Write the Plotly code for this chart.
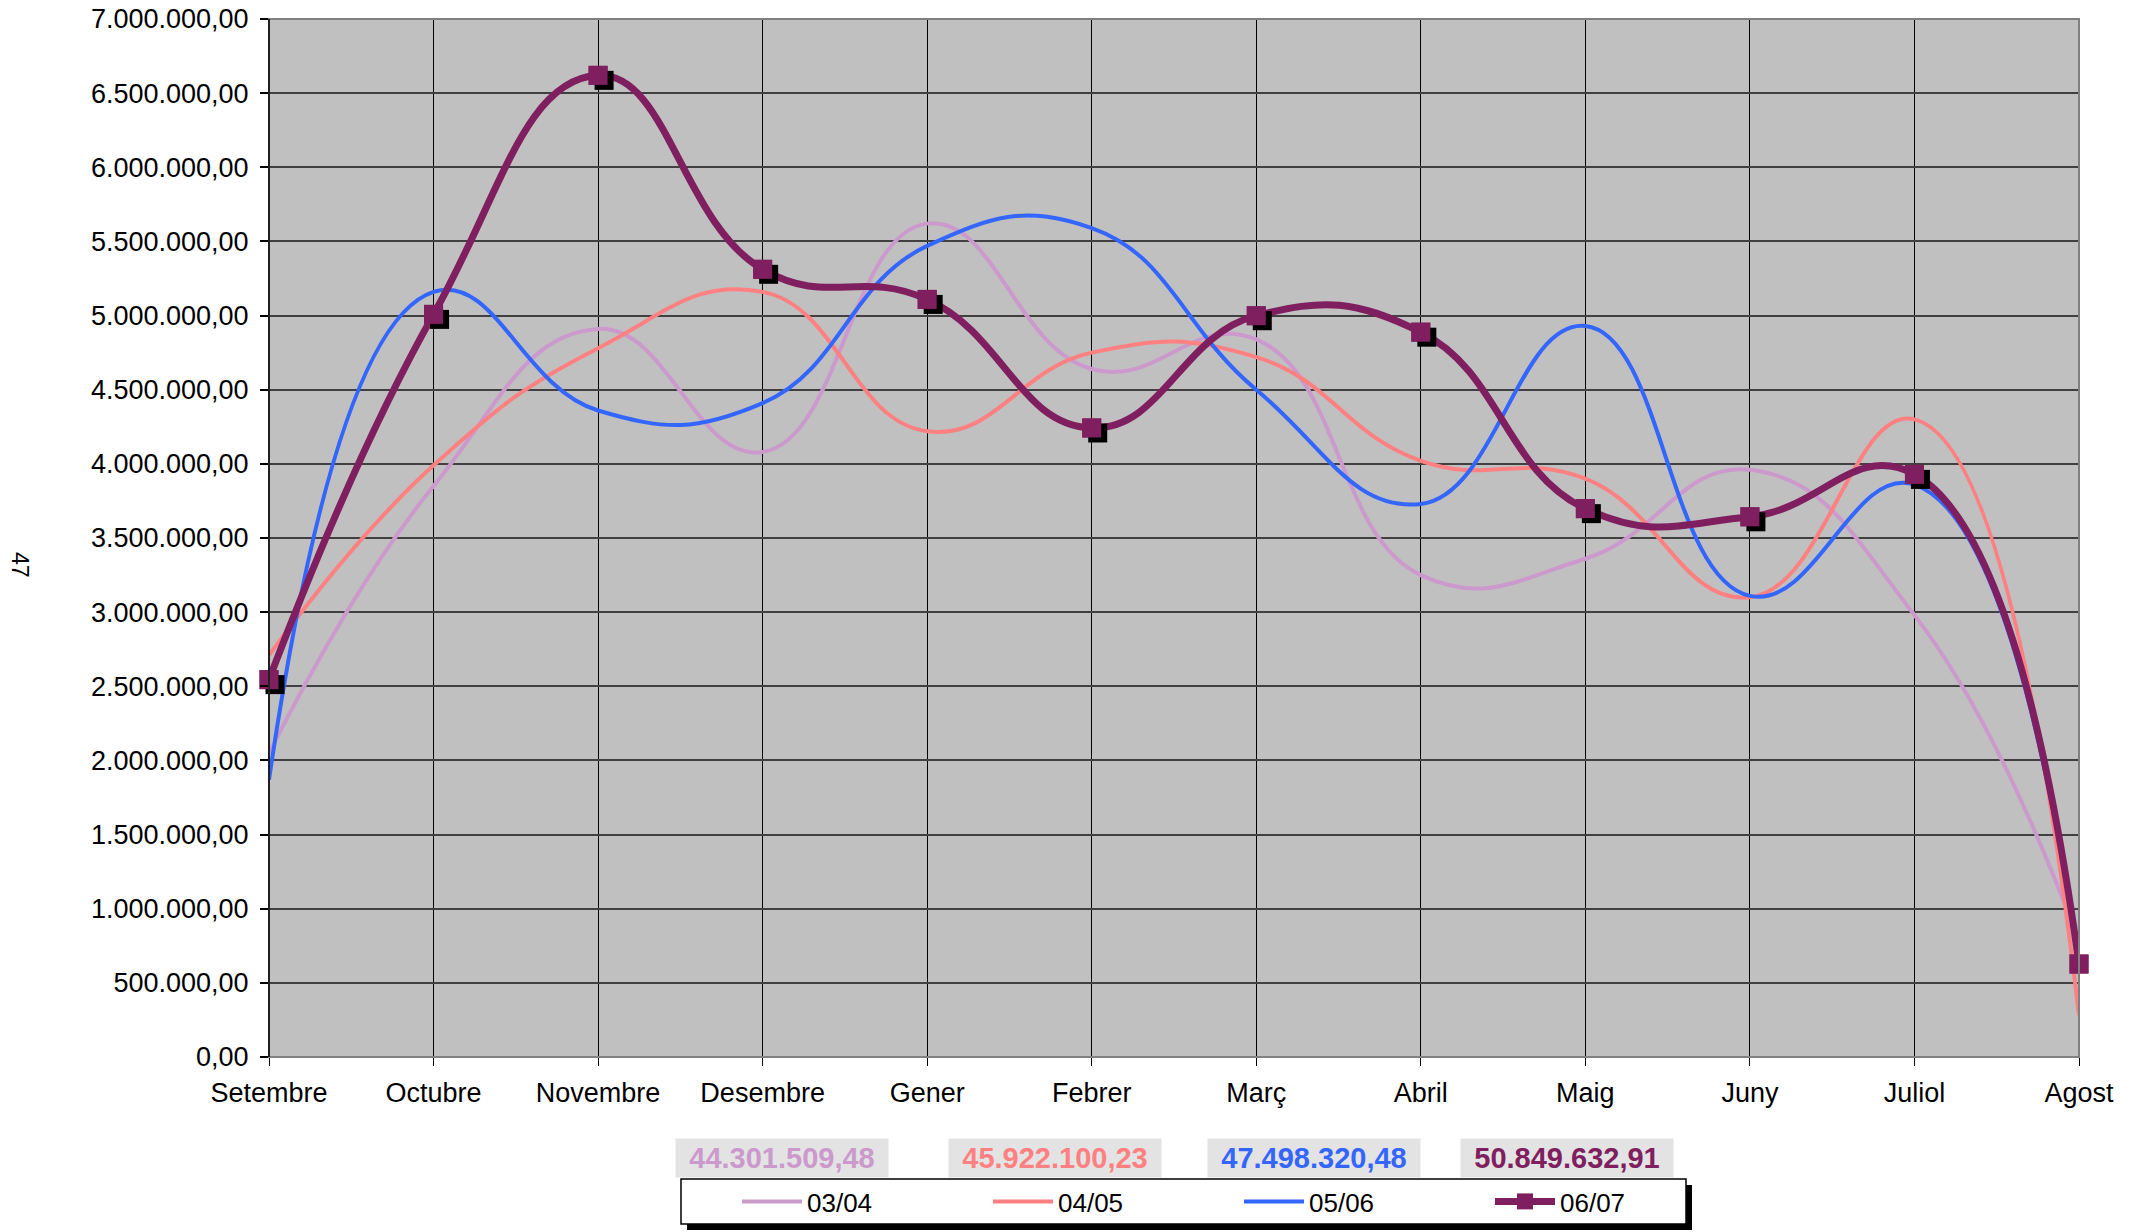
import plotly.graph_objects as go

months = ['Setembre', 'Octubre', 'Novembre', 'Desembre', 'Gener', 'Febrer',
          'Març', 'Abril', 'Maig', 'Juny', 'Juliol', 'Agost']

s0304 = [2050000, 3850000, 4910000, 4080000, 5620000, 4640000,
         4840000, 3250000, 3360000, 3960000, 2980000, 780000]
s0405 = [2710000, 3990000, 4780000, 5160000, 4220000, 4750000,
         4720000, 4020000, 3900000, 3100000, 4300000, 280000]
s0506 = [1870000, 5160000, 4360000, 4410000, 5470000, 5590000,
         4500000, 3730000, 4930000, 3110000, 3860000, 650000]
s0607 = [2545000, 5008000, 6620000, 5312000, 5109000, 4242000,
         4999000, 4888000, 3698000, 3643000, 3929000, 627000]

series_names = ['03/04', '04/05', '05/06', '06/07']
series_totals = ['44.301.509,48', '45.922.100,23', '47.498.320,48', '50.849.632,91']
series_colors = ['#CC99CC', '#FF8080', '#3366FF', '#7F1F5F']

y_tickvals = [0, 500000, 1000000, 1500000, 2000000, 2500000, 3000000, 3500000,
              4000000, 4500000, 5000000, 5500000, 6000000, 6500000, 7000000]
y_ticktext = ['0,00', '500.000,00', '1.000.000,00', '1.500.000,00', '2.000.000,00',
              '2.500.000,00', '3.000.000,00', '3.500.000,00', '4.000.000,00',
              '4.500.000,00', '5.000.000,00', '5.500.000,00', '6.000.000,00',
              '6.500.000,00', '7.000.000,00']

# page geometry (body margin removed by post_script)
OFF = 0
PAGE_W, PAGE_H = 2141, 1232
W, H = PAGE_W - OFF, PAGE_H - OFF
X0, X1, Y0, Y1 = 269, 2079, 19, 1057          # plot area in page pixels
L, R, T, B = X0 - OFF, PAGE_W - X1, Y0 - OFF, PAGE_H - Y1
PW, PH = X1 - X0, Y1 - Y0
FONT = 'Liberation Sans, Arial, sans-serif'
SM = 1.3


def px_x(px):
    return (px - X0) / PW


def px_y(py):
    return (Y1 - py) / PH


fig = go.Figure()

for name, vals, col in zip(series_names[:3], [s0304, s0405, s0506], series_colors[:3]):
    fig.add_trace(go.Scatter(x=months, y=vals, name=name, mode='lines',
                             line=dict(color=col, width=4, shape='spline', smoothing=SM),
                             hoverinfo='skip'))

fig.add_trace(go.Scatter(x=months, y=s0607, name=series_names[3], mode='lines+markers',
                         line=dict(color=series_colors[3], width=7, shape='spline', smoothing=SM),
                         marker=dict(symbol='square', size=19, color=series_colors[3]),
                         cliponaxis=False, hoverinfo='skip'))

# marker shadow (offset axes)
dx = 6 / PW * 11
dy = 5 / PH * 7000000
fig.add_trace(go.Scatter(x=months, y=s0607, mode='markers', showlegend=False,
                         marker=dict(symbol='square', size=19, color='black'),
                         xaxis='x2', yaxis='y2', cliponaxis=False, hoverinfo='skip'))
fig.add_trace(go.Scatter(x=months, y=s0607, mode='markers', showlegend=False,
                         marker=dict(symbol='square', size=19, color=series_colors[3]),
                         xaxis='x3', yaxis='y3', cliponaxis=False, hoverinfo='skip'))

fig.update_layout(
    width=W, height=H,
    margin=dict(l=L, r=R, t=T, b=B, pad=0, autoexpand=False),
    paper_bgcolor='white', plot_bgcolor='#C0C0C0',
    font=dict(family=FONT, size=26, color='black'),
    xaxis=dict(type='category', categoryorder='array', categoryarray=months,
               range=[0, 11], showgrid=True, gridcolor='black', gridwidth=1.2,
               ticks='outside', ticklen=8, tickcolor='black', tickwidth=1.2,
               tickfont=dict(size=27), showline=False, zeroline=False,
               ticklabelstandoff=4, ticklabeloverflow='allow', automargin=False),
    yaxis=dict(range=[0, 7000000], tickvals=y_tickvals, ticktext=y_ticktext,
               showgrid=True, gridcolor='#404040', gridwidth=1.5,
               ticks='outside', ticklen=8, tickcolor='black', tickwidth=1.5,
               tickfont=dict(size=27), showline=False, zeroline=False,
               ticklabelstandoff=6, ticklabeloverflow='allow', automargin=False),
    xaxis2=dict(type='category', categoryorder='array', categoryarray=months,
                range=[-dx, 11 - dx], overlaying='x', visible=False, automargin=False),
    yaxis2=dict(range=[dy, 7000000 + dy], overlaying='y', visible=False, automargin=False),
    xaxis3=dict(type='category', categoryorder='array', categoryarray=months,
                range=[0, 11], overlaying='x', visible=False, automargin=False),
    yaxis3=dict(range=[0, 7000000], overlaying='y', visible=False, automargin=False),
    legend=dict(orientation='h', x=px_x(737), y=px_y(1201.5),
                xanchor='left', yanchor='middle', bgcolor='rgba(0,0,0,0)',
                borderwidth=0,
                font=dict(size=26), entrywidth=176, entrywidthmode='pixels',
                itemwidth=60, tracegroupgap=0),
    showlegend=True,
)

shapes = [
    dict(type='rect', xref='paper', yref='paper', x0=0, x1=1, y0=0, y1=1,
         line=dict(color='#808080', width=2), layer='above'),
    dict(type='line', xref='paper', yref='paper', x0=0, x1=0, y0=0, y1=1,
         line=dict(color='black', width=1.5), layer='above'),
    # legend shadow and box
    dict(type='rect', xref='paper', yref='paper',
         x0=px_x(681 + 6), x1=px_x(1686 + 6), y0=px_y(1224 + 6), y1=px_y(1179 + 6),
         fillcolor='black', line=dict(width=0), layer='above'),
    dict(type='rect', xref='paper', yref='paper',
         x0=px_x(681), x1=px_x(1686), y0=px_y(1224), y1=px_y(1179),
         fillcolor='white', line=dict(color='black', width=1.5), layer='above'),
]
fig.update_layout(shapes=shapes)

box_centers = [782, 1055, 1314, 1567]
annotations = []
for txt, col, cx in zip(series_totals, series_colors, box_centers):
    annotations.append(dict(text='<b>' + txt + '</b>', xref='paper', yref='paper',
                            x=px_x(cx), y=px_y(1158),
                            xanchor='center', yanchor='middle', showarrow=False,
                            font=dict(size=29, color=col, family=FONT),
                            bgcolor='#E3E3E3', width=210, height=36))
annotations.append(dict(text='47', xref='paper', yref='paper',
                        x=px_x(20), y=px_y(565), textangle=90,
                        xanchor='center', yanchor='middle', showarrow=False,
                        font=dict(size=23, color='black')))
fig.update_layout(annotations=annotations)

fig.write_html('out.html', config={'displayModeBar': False},
               post_script="document.body.style.margin='0';document.body.style.overflow='hidden';")
